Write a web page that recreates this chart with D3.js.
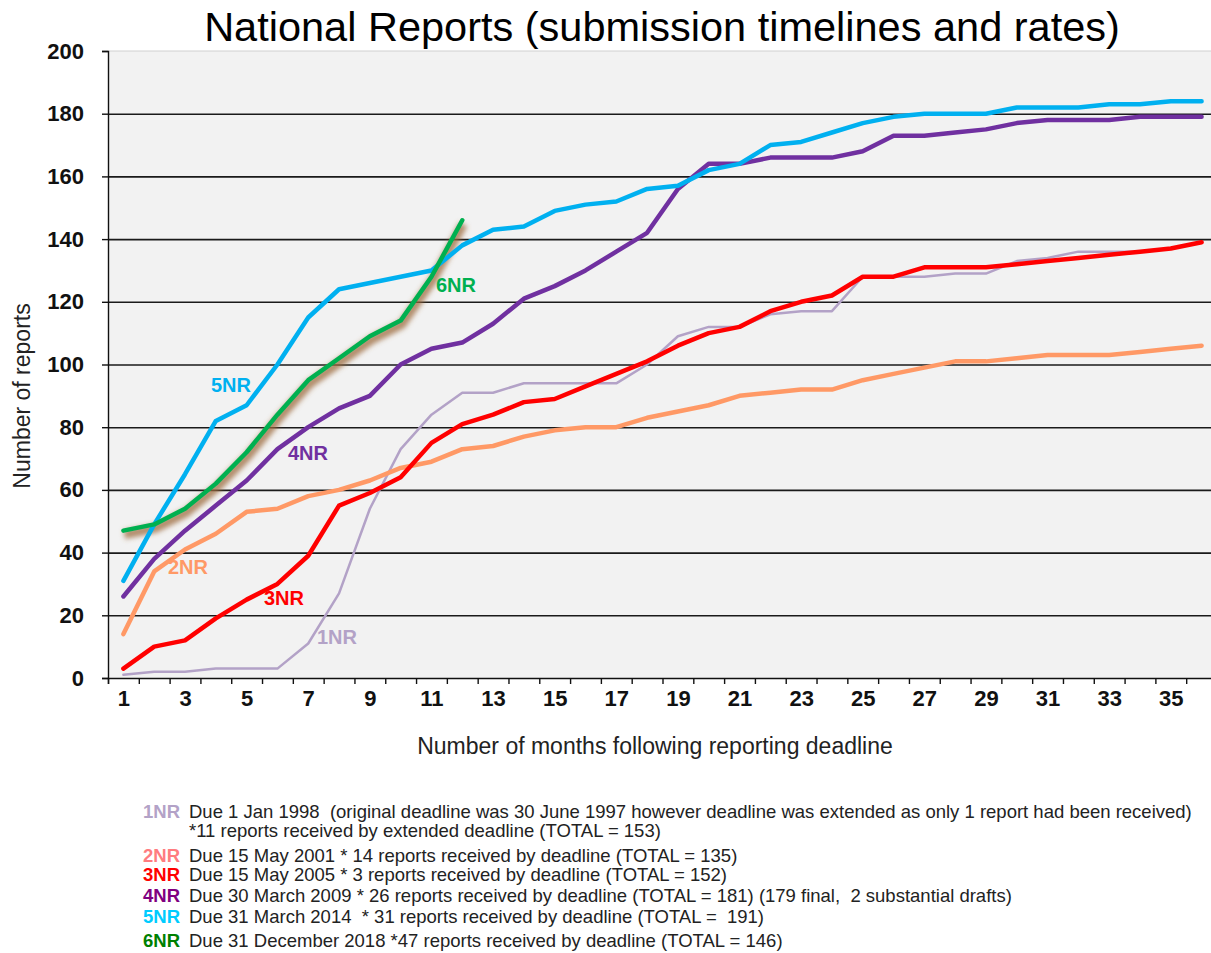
<!DOCTYPE html>
<html lang="en">
<head>
    <meta charset="utf-8">
    <title>National Reports</title>
    <script src="https://d3js.org/d3.v7.min.js"></script>
    <style>
        body { margin: 0; background: #fff; }
        text { font-family: "Liberation Sans", Arial, sans-serif; }
    </style>
</head>
<body>
    <div id="dataviz"></div>
    <script>

        // months after the deadline
        var months = d3.range(1, 37);
        var monthLabels = [1, 3, 5, 7, 9, 11, 13, 15, 17, 19, 21, 23, 25, 27, 29, 31, 33, 35];
        var yTicks = [0, 20, 40, 60, 80, 100, 120, 140, 160, 180, 200];

        var nr1 = [1, 2, 2, 3, 3, 3, 11, 27, 54, 73, 84, 91, 91, 94, 94, 94, 94, 100, 109, 112, 112, 116, 117, 117, 128, 128, 128, 129, 129, 133, 134, 136, 136, 136, 137, 139];
        var nr2 = [14, 34, 41, 46, 53, 54, 58, 60, 63, 67, 69, 73, 74, 77, 79, 80, 80, 83, 85, 87, 90, 91, 92, 92, 95, 97, 99, 101, 101, 102, 103, 103, 103, 104, 105, 106];
        var nr3 = [3, 10, 12, 19, 25, 30, 39, 55, 59, 64, 75, 81, 84, 88, 89, 93, 97, 101, 106, 110, 112, 117, 120, 122, 128, 128, 131, 131, 131, 132, 133, 134, 135, 136, 137, 139];
        var nr4 = [26, 38, 47, 55, 63, 73, 80, 86, 90, 100, 105, 107, 113, 121, 125, 130, 136, 142, 156, 164, 164, 166, 166, 166, 168, 173, 173, 174, 175, 177, 178, 178, 178, 179, 179, 179];
        var nr5 = [31, 49, 65, 82, 87, 100, 115, 124, 126, 128, 130, 138, 143, 144, 149, 151, 152, 156, 157, 162, 164, 170, 171, 174, 177, 179, 180, 180, 180, 182, 182, 182, 183, 183, 184, 184];
        var nr6 = [47, 49, 54, 62, 72, 84, 95, 102, 109, 114, 128, 146];

        var seriesNames = ["1NR", "2NR", "3NR", "4NR", "5NR", "6NR"];
        var lineColors = ["#B3A2C7", "#FF9966", "#FF0000", "#7030A0", "#00B0F0", "#00B050"];
        var legendColors = ["#B3A2C7", "#FF7C80", "#FF0000", "#800080", "#00CCFF", "#008000"];

        var legendRows = [
            { tag: "1NR", text: "Due 1 Jan 1998  (original deadline was 30 June 1997 however deadline was extended as only 1 report had been received)" },
            { tag: "", text: "*11 reports received by extended deadline (TOTAL = 153)" },
            { tag: "2NR", text: "Due 15 May 2001 * 14 reports received by deadline (TOTAL = 135)" },
            { tag: "3NR", text: "Due 15 May 2005 * 3 reports received by deadline (TOTAL = 152)" },
            { tag: "4NR", text: "Due 30 March 2009 * 26 reports received by deadline (TOTAL = 181) (179 final,  2 substantial drafts)" },
            { tag: "5NR", text: "Due 31 March 2014  * 31 reports received by deadline (TOTAL =  191)" },
            { tag: "6NR", text: "Due 31 December 2018 *47 reports received by deadline (TOTAL = 146)" }
        ];

        var W = 1211, H = 953;
        var plotLeft = 108, plotRight = 1217, plotTop = 51, plotBottom = 678;

        var svg = d3.select("#dataviz")
            .append("svg")
            .attr("width", W)
            .attr("height", H);

        var defs = svg.append("defs");
        var glow = defs.append("filter").attr("id", "glow")
            .attr("x", "-10%").attr("y", "-10%").attr("width", "120%").attr("height", "130%");
        glow.append("feGaussianBlur").attr("stdDeviation", 2.5);

        var x = d3.scaleLinear().domain([0.5, 36.5]).range([plotLeft, plotRight]);
        var y = d3.scaleLinear().domain([0, 200]).range([plotBottom, plotTop]);

        // plot background
        svg.append("rect")
            .attr("x", plotLeft).attr("y", plotTop)
            .attr("width", plotRight - plotLeft).attr("height", plotBottom - plotTop)
            .attr("fill", "#F2F2F2");
        svg.append("line")
            .attr("x1", plotLeft).attr("x2", plotRight).attr("y1", plotTop).attr("y2", plotTop)
            .attr("stroke", "#d0d0d0").attr("stroke-width", 1);

        // gridlines
        svg.append("g")
            .attr("transform", "translate(" + plotLeft + ",0)")
            .call(d3.axisLeft(y).tickValues(yTicks.slice(1, 10)).tickSize(-(plotRight - plotLeft)).tickFormat(""))
            .call(function (g) { g.select(".domain").remove(); })
            .selectAll("line")
            .attr("stroke", "#1a1a1a").attr("stroke-width", 1.6);

        // y axis
        var yAxis = svg.append("g")
            .attr("transform", "translate(" + plotLeft + ",0)")
            .call(d3.axisLeft(y).tickValues(yTicks).tickSize(6).tickPadding(18));
        yAxis.selectAll("text")
            .style("font-size", "22px").style("font-weight", "bold").attr("fill", "#111");
        yAxis.selectAll("line, path").attr("stroke", "#111").attr("stroke-width", 1.4);

        // x axis: ticks between months, labels on odd months
        var xAxis = svg.append("g")
            .attr("transform", "translate(0," + plotBottom + ")")
            .call(d3.axisBottom(x).tickValues(d3.range(0.5, 37, 1)).tickSize(6).tickFormat(""));
        xAxis.selectAll("line, path").attr("stroke", "#111").attr("stroke-width", 1.4);

        var xLabels = svg.append("g")
            .attr("transform", "translate(0," + plotBottom + ")")
            .call(d3.axisBottom(x).tickValues(monthLabels).tickSize(0).tickPadding(12).tickFormat(d3.format("d")));
        xLabels.select(".domain").remove();
        xLabels.selectAll("text")
            .style("font-size", "22px").style("font-weight", "bold").attr("fill", "#111");

        // axis titles
        svg.append("text")
            .attr("x", 655).attr("y", 754)
            .attr("text-anchor", "middle")
            .style("font-size", "23px").attr("fill", "#222")
            .text("Number of months following reporting deadline");

        svg.append("text")
            .attr("transform", "translate(30,396) rotate(-90)")
            .attr("text-anchor", "middle")
            .style("font-size", "23px").attr("fill", "#222")
            .text("Number of reports");

        // title
        svg.append("text")
            .attr("x", 662).attr("y", 41)
            .attr("text-anchor", "middle")
            .style("font-size", "41.5px").attr("fill", "#000")
            .text("National Reports (submission timelines and rates)");

        // lines
        var allSeries = [nr1, nr2, nr3, nr4, nr5, nr6];
        var dataReady = seriesNames.map(function (name, i) {
            return {
                name: name,
                color: lineColors[i],
                values: allSeries[i].map(function (v, j) { return { month: months[j], value: v }; })
            };
        });

        var line = d3.line()
            .x(function (d) { return x(d.month); })
            .y(function (d) { return y(d.value); });

        // brown glow under 6NR
        svg.append("path")
            .attr("d", line(dataReady[5].values))
            .attr("transform", "translate(1,4)")
            .attr("fill", "none")
            .attr("stroke", "#9C6B3F")
            .attr("stroke-opacity", 0.75)
            .attr("stroke-width", 9)
            .attr("stroke-linejoin", "round")
            .attr("filter", "url(#glow)");

        svg.selectAll("myLines")
            .data(dataReady)
            .enter()
            .append("path")
            .attr("d", function (d) { return line(d.values); })
            .attr("fill", "none")
            .attr("stroke", function (d) { return d.color; })
            .attr("stroke-width", function (d) { return d.name === "1NR" ? 2.5 : 4.5; })
            .attr("stroke-linejoin", "round")
            .attr("stroke-linecap", "round");

        // in-chart labels
        var inLabels = [
            { name: "1NR", cx: 337, cy: 637 },
            { name: "2NR", cx: 188, cy: 567 },
            { name: "3NR", cx: 284, cy: 598 },
            { name: "4NR", cx: 308, cy: 453 },
            { name: "5NR", cx: 231, cy: 385 },
            { name: "6NR", cx: 456, cy: 285 }
        ];
        svg.selectAll("myLabels")
            .data(inLabels)
            .enter()
            .append("text")
            .attr("x", function (d) { return d.cx; })
            .attr("y", function (d) { return d.cy; })
            .attr("dy", "0.36em")
            .attr("text-anchor", "middle")
            .style("font-size", "20px").style("font-weight", "bold")
            .attr("fill", function (d) { return lineColors[seriesNames.indexOf(d.name)]; })
            .text(function (d) { return d.name; });

        // legend below the chart
        var rowY = [818, 837, 862, 881, 902, 923, 947];
        var legend = svg.append("g");
        legendRows.forEach(function (r, i) {
            if (r.tag) {
                legend.append("text")
                    .attr("x", 143).attr("y", rowY[i])
                    .style("font-size", "18.5px").style("font-weight", "bold")
                    .attr("fill", legendColors[seriesNames.indexOf(r.tag)])
                    .text(r.tag);
            }
            legend.append("text")
                .attr("x", 189).attr("y", rowY[i])
                .style("font-size", "18.5px")
                .attr("fill", "#222")
                .style("white-space", "pre")
                .text(r.text);
        });

    </script>
</body>
</html>
